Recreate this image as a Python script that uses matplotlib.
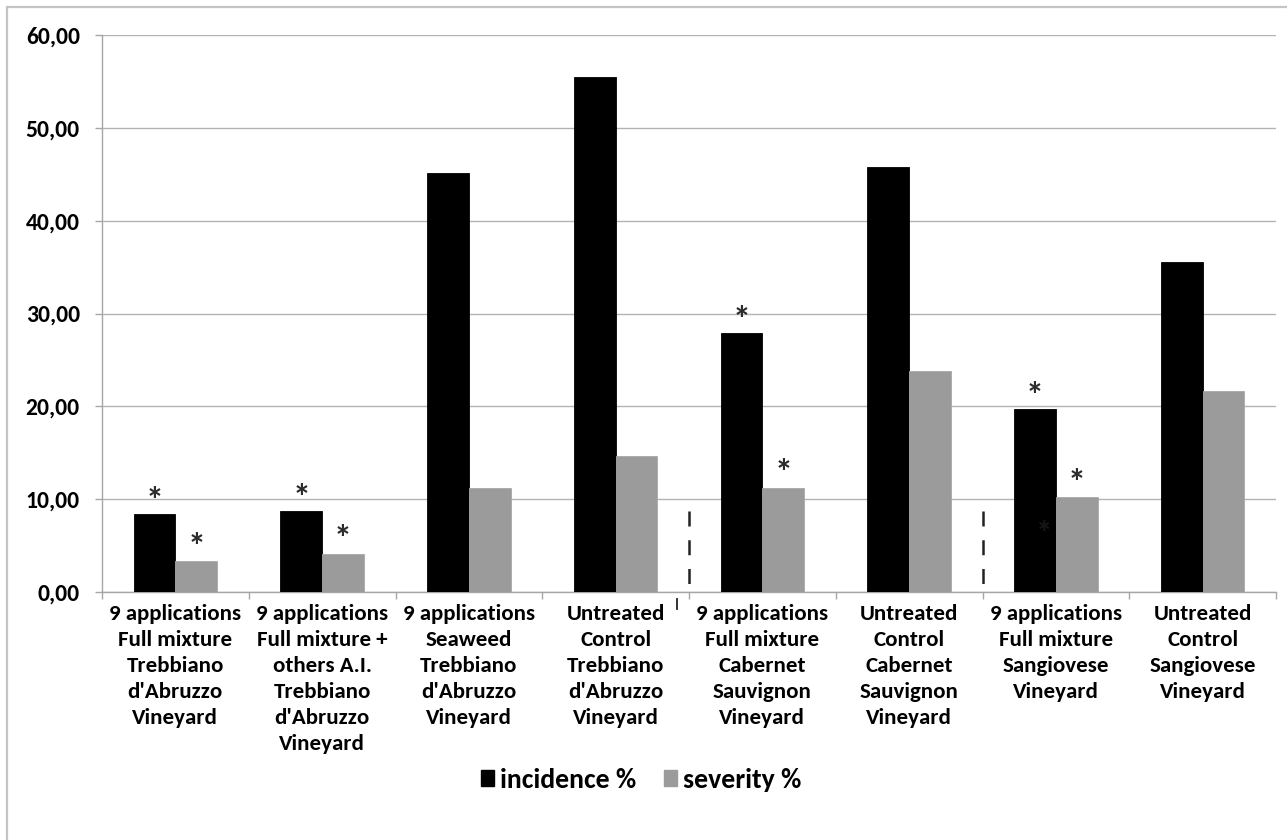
import matplotlib
matplotlib.use("Agg")
import matplotlib.pyplot as plt
from matplotlib.patches import Rectangle, Patch
import numpy as np

# ---- data -------------------------------------------------------------
categories = [
    "9 applications\nFull mixture\nTrebbiano\nd'Abruzzo\nVineyard",
    "9 applications\nFull mixture +\nothers A.I.\nTrebbiano\nd'Abruzzo\nVineyard",
    "9 applications\nSeaweed\nTrebbiano\nd'Abruzzo\nVineyard",
    "Untreated\nControl\nTrebbiano\nd'Abruzzo\nVineyard",
    "9 applications\nFull mixture\nCabernet\nSauvignon\nVineyard",
    "Untreated\nControl\nCabernet\nSauvignon\nVineyard",
    "9 applications\nFull mixture\nSangiovese\nVineyard",
    "Untreated\nControl\nSangiovese\nVineyard",
]
incidence = [8.4, 8.7, 45.1, 55.5, 27.9, 45.8, 19.7, 35.6]
severity = [3.3, 4.1, 11.2, 14.6, 11.2, 23.8, 10.2, 21.6]
series_names = ["incidence %", "severity %"]
# significance marks (True = asterisk above the bar)
incidence_sig = [True, True, False, False, True, False, True, False]
severity_sig = [True, True, False, False, True, False, True, False]
y_ticks = [0, 10, 20, 30, 40, 50, 60]
y_tick_labels = ["0,00", "10,00", "20,00", "30,00", "40,00", "50,00", "60,00"]

# ---- style ------------------------------------------------------------
FONT = "Carlito"
BLACK = "#000000"
GREY = "#9b9b9b"
GRID = "#b3b3b3"
AXIS = "#a6a6a6"

W, H = 1287, 840
fig = plt.figure(figsize=(W / 100, H / 100), dpi=100)
fig.patch.set_facecolor("white")

# outer chart frame
fig.patches.append(Rectangle((7 / W, -0.05), 1.2, 1 - 7 / H + 0.05,
                             transform=fig.transFigure, fill=False,
                             edgecolor="#c4c4c4", linewidth=1.6))

ax_left, ax_right = 102 / W, 1276 / W
ax_bottom, ax_top = 1 - 592 / H, 1 - 35 / H
ax = fig.add_axes([ax_left, ax_bottom, ax_right - ax_left, ax_top - ax_bottom])

x = np.arange(len(categories))
bw = 0.285
ax.bar(x - bw / 2, incidence, width=bw, color=BLACK, edgecolor=BLACK,
       linewidth=0.6, zorder=3)
ax.bar(x + bw / 2, severity, width=bw, color=GREY, edgecolor="#a8a8a8",
       linewidth=0.6, zorder=3)

ax.set_xlim(-0.5, len(categories) - 0.5)
ax.set_ylim(0, 60)
ax.set_yticks(y_ticks)
ax.set_yticklabels(y_tick_labels, fontfamily=FONT, fontweight="bold",
                   fontsize=17)
ax.yaxis.grid(True, color=GRID, linewidth=1.0, zorder=0)
ax.set_axisbelow(True)

# category boundaries as x ticks, labels at the centres
ax.set_xticks(np.arange(len(categories) + 1) - 0.5)
ax.set_xticklabels([])
ax.set_xticks(x, minor=True)
ax.set_xticklabels(categories, minor=True, fontfamily=FONT,
                   fontweight="bold", fontsize=16.5, linespacing=1.37,
                   va="top", ha="center")
ax.tick_params(axis="x", which="minor", length=0, pad=9)
ax.tick_params(axis="x", which="major", length=5, color=AXIS, width=1)
ax.tick_params(axis="y", length=5, color=AXIS, width=1, pad=11)

for side in ["top", "right"]:
    ax.spines[side].set_visible(False)
for side in ["left", "bottom"]:
    ax.spines[side].set_color(AXIS)
    ax.spines[side].set_linewidth(1.0)

# asterisks over significant bars
star_kw = dict(ha="center", va="baseline", fontsize=26, color="#2b2b2b",
               fontfamily=FONT, fontweight="bold", zorder=5)
for i in x:
    if incidence_sig[i]:
        ax.text(i - bw / 2, incidence[i] + 0.2, "*", **star_kw)
    if severity_sig[i]:
        ax.text(i + bw / 2, severity[i] + 0.4, "*", **star_kw)
# faint leftover mark inside the Sangiovese bar
ax.text(6 - bw / 2 + 0.06, 5.3, "*", ha="center", va="baseline",
        fontsize=24, color="#161616", fontfamily=FONT, fontweight="bold",
        zorder=5)

# dashed separators between vineyards
for xs in [3.5, 5.5]:
    ax.plot([xs, xs], [8.7, -0.5], color="#222222", linewidth=1.8,
            linestyle=(0, (6, 5.5)), clip_on=False, zorder=4)
# small tick mark under the fourth group
ax.plot([3.42, 3.42], [-0.75, -1.85], color="#222222", linewidth=1.3,
        clip_on=False, zorder=4)

# legend
handles = [Patch(facecolor=BLACK, edgecolor=BLACK),
           Patch(facecolor=GREY, edgecolor=GREY)]
fig.legend(handles, series_names, loc="center", ncol=2,
           bbox_to_anchor=(641 / W, 1 - 780 / H), frameon=False,
           prop=dict(family=FONT, weight="bold", size=20),
           handlelength=0.48, handleheight=0.48, handletextpad=0.2,
           columnspacing=1.0)

fig.savefig("out.png", dpi=100, facecolor="white")
